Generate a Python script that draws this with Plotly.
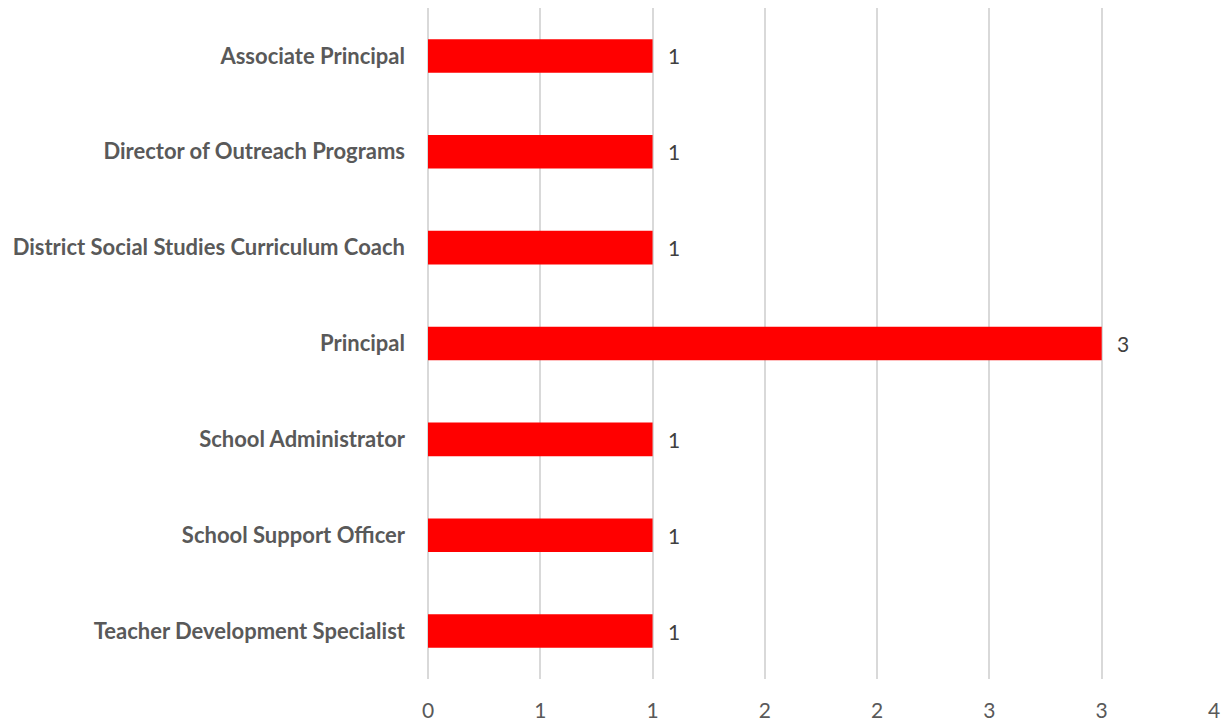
import plotly.graph_objects as go

categories = [
    "Associate Principal",
    "Director of Outreach Programs",
    "District Social Studies Curriculum Coach",
    "Principal",
    "School Administrator",
    "School Support Officer",
    "Teacher Development Specialist",
]
values = [1, 1, 1, 3, 1, 1, 1]
tick_vals = [0, 0.5, 1, 1.5, 2, 2.5, 3, 3.5]
tick_text = ["0", "1", "1", "2", "2", "3", "3", "4"]

fig = go.Figure(
    go.Bar(
        x=values,
        y=categories,
        orientation="h",
        marker=dict(color="#FF0000", line=dict(width=0)),
        width=0.35,
        hoverinfo="skip",
    )
)

for c, v in zip(categories, values):
    fig.add_annotation(
        x=v, y=c, text=str(v), showarrow=False, xanchor="left", xshift=13,
        font=dict(family="Lato", size=21, color="#404040"),
    )

# page body has an 8px default margin, so the figure is sized to fit
fig.update_layout(
    width=1223,
    height=715,
    margin=dict(l=420, r=17, t=0, b=44, autoexpand=False),
    paper_bgcolor="white",
    plot_bgcolor="white",
    showlegend=False,
    xaxis=dict(
        range=[0, 3.5],
        tickvals=tick_vals,
        ticktext=tick_text,
        showgrid=True,
        gridcolor="#D9D9D9",
        gridwidth=1.5,
        zeroline=True,
        zerolinecolor="#D9D9D9",
        zerolinewidth=1.5,
        showline=False,
        ticks="",
        ticklabelstandoff=17,
        automargin=False,
        tickfont=dict(family="Lato", size=21, color="#595959"),
        fixedrange=True,
    ),
    yaxis=dict(
        categoryorder="array",
        categoryarray=categories[::-1],
        showgrid=False,
        zeroline=False,
        showline=False,
        ticks="",
        ticklabelstandoff=22,
        automargin=False,
        tickfont=dict(family="Lato", size=22, color="#595959", weight="bold"),
        fixedrange=True,
    ),
)

fig.write_html("out.html")
